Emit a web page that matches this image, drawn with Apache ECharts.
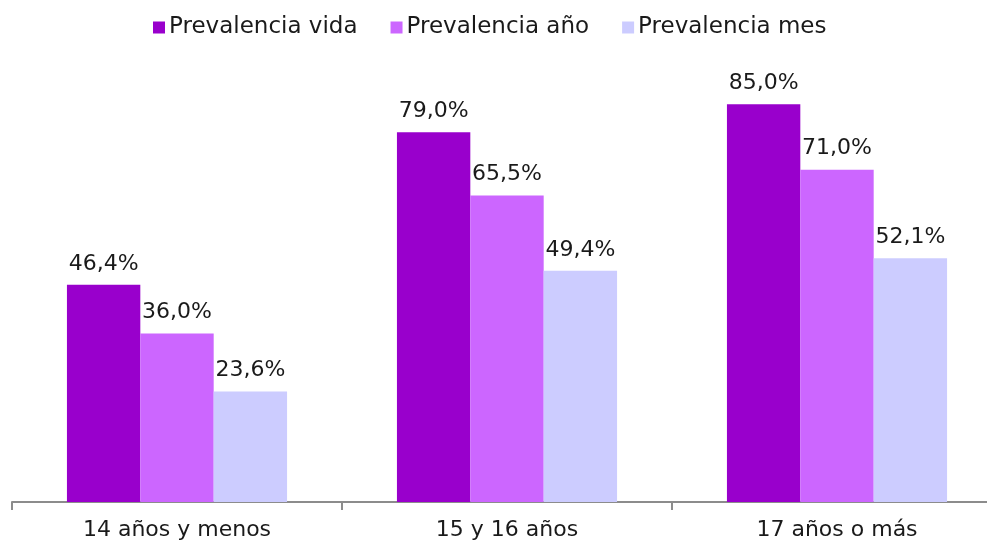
<!DOCTYPE html>
<html>
<head>
<meta charset="utf-8">
<script src="https://cdn.jsdelivr.net/npm/echarts@6/dist/echarts.min.js"></script>
<style>
  html, body { margin: 0; padding: 0; background: #fff; overflow: hidden; }
  #chart { width: 1010px; height: 542px; }
</style>
</head>
<body>
<div id="chart"></div>
<script>
const categories = ["14 años y menos", "15 y 16 años", "17 años o más"];
const seriesNames = ["Prevalencia vida", "Prevalencia año", "Prevalencia mes"];
const vida = [46.4, 79.0, 85.0];
const anio = [36.0, 65.5, 71.0];
const mes = [23.6, 49.4, 52.1];
const colors = ["#9900cc", "#cc66ff", "#ccccff"];

const font = "'DejaVu Sans', sans-serif";
// the plot runs past the right edge of the window, so the div is wider than the page
const chart = echarts.init(document.getElementById("chart"), null, { renderer: "canvas" });

function makeSeries(name, values, color) {
  return {
    type: "bar",
    name: name,
    data: values,
    barGap: "0%",
    barCategoryGap: "33.3%",
    itemStyle: { color: color },
    label: {
      show: true,
      position: "top",
      distance: 10,
      color: "#1a1a1a",
      fontFamily: font,
      fontSize: 22,
      formatter: (p) => p.value.toFixed(1).replace(".", ",") + "%",
    },
  };
}

chart.setOption({
  animation: false,
  backgroundColor: "#fff",
  color: colors,
  legend: {
    top: 11,
    left: 148,
    itemWidth: 12,
    itemHeight: 12,
    itemGap: 33,
    icon: "rect",
    textStyle: { color: "#1a1a1a", fontFamily: font, fontSize: 23, padding: [0, 0, 0, -1] },
  },
  grid: { left: 12, right: 8, top: 34, bottom: 40, containLabel: false },
  xAxis: {
    type: "category",
    data: categories,
    axisLine: { lineStyle: { color: "#8c8c8c", width: 2 } },
    axisTick: { show: true, length: 8, lineStyle: { color: "#8c8c8c", width: 2 } },
    axisLabel: { color: "#1a1a1a", fontFamily: font, fontSize: 22, margin: 17 },
  },
  yAxis: {
    type: "value",
    min: 0,
    max: 100,
    show: false,
    splitLine: { show: false },
  },
  series: [
    makeSeries(seriesNames[0], vida, colors[0]),
    makeSeries(seriesNames[1], anio, colors[1]),
    makeSeries(seriesNames[2], mes, colors[2]),
  ],
});
</script>
</body>
</html>
